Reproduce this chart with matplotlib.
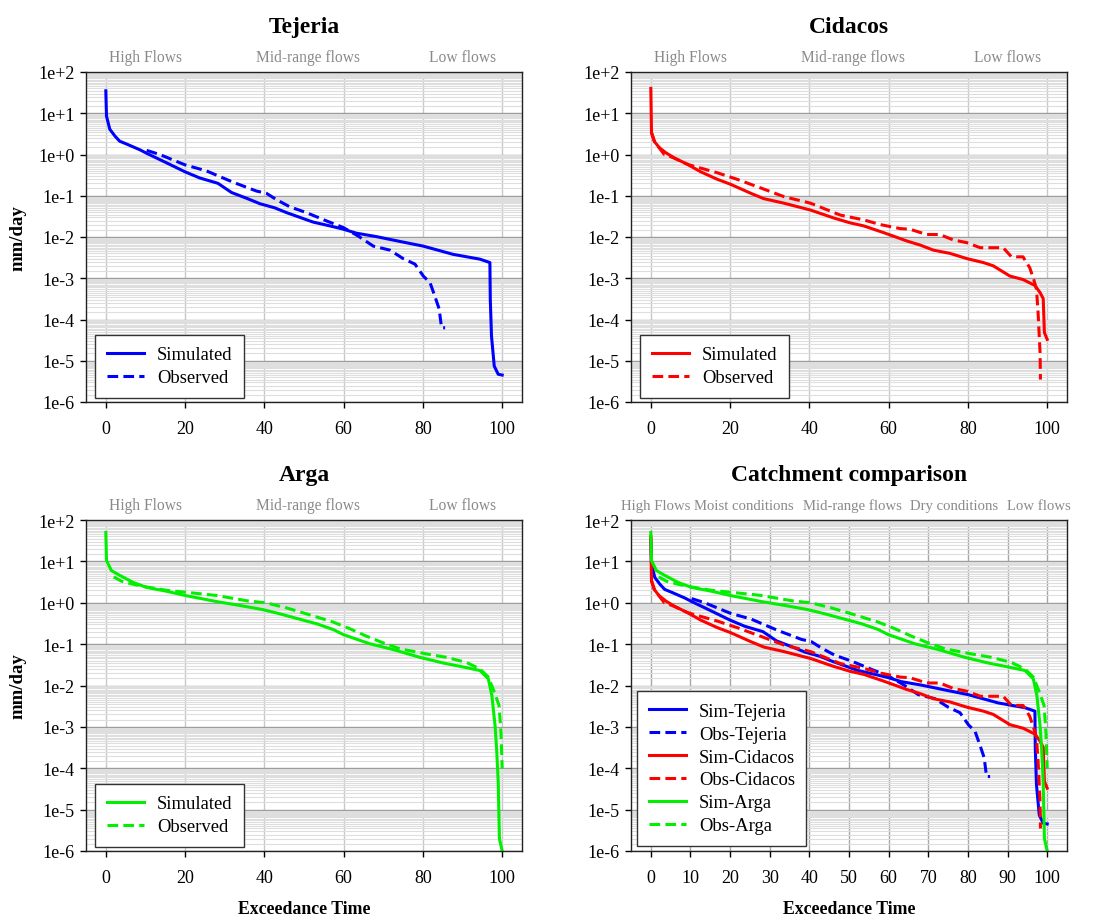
import numpy as np
import matplotlib
matplotlib.use("Agg")
import matplotlib.pyplot as plt
from matplotlib.ticker import LogLocator, FixedLocator, NullFormatter

plt.rcParams['font.family'] = ['Liberation Serif', 'DejaVu Serif']

# ---------------- data (exceedance %, mm/day) ----------------
tej_sim_x = [0, 0.17, 1, 2.3, 3.5, 5.2, 8.6, 10.3, 15.3, 20, 23.7, 28.3, 31.7, 35.5, 38.9,
             42.6, 45.6, 52.3, 56.5, 59.9, 63.2, 68.3, 74.2, 80.1, 87.6, 94.4, 96.9,
             97.0, 97.3, 98.0, 99, 100]
tej_sim_y = [35, 8.5, 4.1, 2.8, 2.1, 1.8, 1.3, 1.07, 0.63, 0.38, 0.27, 0.2, 0.12, 0.087, 0.064,
             0.051, 0.039, 0.023, 0.0186, 0.0155, 0.0124, 0.0102, 0.0078, 0.006, 0.0038, 0.0029, 0.0024,
             3.1e-4, 4e-5, 7.4e-6, 4.7e-6, 4.5e-6]
tej_obs_x = [10.3, 13.6, 20, 25.4, 32, 38, 40.5, 43, 46.4, 50.6, 55.7, 59.9, 63.7, 67.5,
             71.7, 75, 78, 80.1, 81.8, 83, 84.1, 84.7, 85.6]
tej_obs_y = [1.26, 1.0, 0.56, 0.40, 0.215, 0.13, 0.115, 0.081, 0.054, 0.039, 0.0245, 0.017, 0.0105, 0.006,
             0.0048, 0.003, 0.0022, 0.00113, 7.8e-4, 3.7e-4, 1.8e-4, 6.3e-5, 6.3e-5]

cid_sim_x = [0, 0.17, 0.84, 2.1, 3.8, 5.9, 9.2, 12.6, 16.8, 20.1, 25.2, 28.5, 33.6, 40.3, 46.1,
             50.3, 53.7, 58.7, 61.2, 64.6, 67.9, 71.3, 75.5, 79.7, 83.9, 86.4, 90.6, 93.9,
             96.9, 98.2, 99, 99.3, 100]
cid_sim_y = [40, 3.4, 2.1, 1.48, 1.1, 0.83, 0.58, 0.38, 0.25, 0.19, 0.115, 0.085, 0.066, 0.045, 0.029,
             0.022, 0.0186, 0.0128, 0.0105, 0.008, 0.0064, 0.0048, 0.004, 0.003, 0.0024, 0.002, 0.00113, 9.3e-4,
             6.7e-4, 4.5e-4, 3.2e-4, 4.8e-5, 3.3e-5]
cid_obs_x = [0.1, 1.0, 3.4, 5.5, 9.2, 10.9, 16.8, 21.8, 28.5, 33.6, 40.3, 47.8, 53.7, 57.9, 62.9,
             65.4, 69.6, 72.9, 76.3, 79.7, 83.1, 88.9, 91, 93.9, 95.6, 96.6, 97.3, 97.7, 98.2, 98.3]
cid_obs_y = [3.5, 2.0, 1.0, 0.85, 0.58, 0.52, 0.36, 0.25, 0.145, 0.095, 0.066, 0.034, 0.026, 0.020, 0.016,
             0.0154, 0.0115, 0.0115, 0.0085, 0.0073, 0.0055, 0.0055, 0.0033, 0.0033, 0.0018, 9.4e-4, 5.4e-4,
             1.5e-4, 1.6e-5, 3.5e-6]

arg_sim_x = [0, 0.17, 1.4, 3.5, 6.9, 10.3, 15.3, 20, 27.9, 33.8, 39.7, 43.9, 48.1, 53.2, 57.4,
             59.9, 66.6, 72.5, 79.2, 85.1, 91, 94.4, 96.5, 97.4, 98.2, 98.6, 99, 99.3, 100]
arg_sim_y = [50, 10.5, 6, 4.6, 3.1, 2.35, 1.9, 1.5, 1.07, 0.86, 0.68, 0.54, 0.42, 0.31, 0.225,
             0.17, 0.102, 0.074, 0.048, 0.035, 0.027, 0.023, 0.0145, 0.0057, 0.00108, 2.9e-4, 4.7e-5, 2e-6, 1e-6]
arg_obs_x = [2, 4, 6.9, 10.3, 15.3, 20, 27.9, 35.5, 40.5, 45.6, 50.6, 57.4, 61.6, 65.8, 70,
             74.2, 80.9, 85.9, 91, 94.4, 96.5, 98.2, 99.2, 99.7, 100]
arg_obs_y = [4.2, 3.3, 2.8, 2.4, 2.0, 1.8, 1.5, 1.12, 0.99, 0.75, 0.54, 0.34, 0.235, 0.155, 0.107,
             0.077, 0.058, 0.048, 0.036, 0.025, 0.016, 0.0063, 0.0033, 7.4e-4, 9.8e-5]

ytick_vals = [1e2, 1e1, 1e0, 1e-1, 1e-2, 1e-3, 1e-4, 1e-5, 1e-6]
ytick_labels = ["1e+2", "1e+1", "1e+0", "1e-1", "1e-2", "1e-3", "1e-4", "1e-5", "1e-6"]

regions3 = ["High Flows", "Mid-range flows", "Low flows"]
regions3_x = [10, 51, 90]
regions5 = ["High Flows", "Moist conditions", "Mid-range flows", "Dry conditions", "Low flows"]
regions5_x = [1.3, 23.4, 50.9, 76.5, 97.9]

BLUE, RED, GREEN = "#0000ff", "#ff0000", "#00f000"
DASH = (3.5, 1.7)
LW = 2.2

fig = plt.figure(figsize=(10.99, 9.2), dpi=100)
W, H = 1099, 920


def make_ax(left_px, top_px, right_px, bottom_px):
    return fig.add_axes([left_px / W, 1 - bottom_px / H, (right_px - left_px) / W, (bottom_px - top_px) / H])


def style(ax, xstep, vcol, title, regions, regions_x, rfs, ylabel, xlabel):
    ax.set_yscale('log')
    ax.set_ylim(1e-6, 1e2)
    ax.set_xlim(-5, 105)
    ax.yaxis.set_major_locator(FixedLocator(ytick_vals))
    ax.set_yticklabels(ytick_labels)
    ax.yaxis.set_minor_locator(LogLocator(base=10, subs=np.arange(1.5, 10, 0.5), numticks=50))
    ax.yaxis.set_minor_formatter(NullFormatter())
    ax.set_xticks(np.arange(0, 101, xstep))
    ax.grid(True, which='major', axis='y', color='#9a9a9a', lw=1.0, zorder=0)
    ax.grid(True, which='minor', axis='y', color='#dedede', lw=0.8, zorder=0)
    ax.grid(True, which='major', axis='x', color=vcol, lw=1.0, zorder=0)
    ax.tick_params(axis='y', which='minor', length=0)
    ax.tick_params(axis='both', which='major', labelsize=13, length=4, width=1, direction='out')
    ax.tick_params(axis='y', pad=4)
    ax.tick_params(axis='x', pad=9)
    ax.set_axisbelow(True)
    for s in ax.spines.values():
        s.set_color('#222222')
        s.set_linewidth(1.0)
    ax.text(0.5, 1 + 40 / 330, title, transform=ax.transAxes, ha='center', va='baseline',
            fontsize=17, fontweight='bold')
    for lab, xv in zip(regions, regions_x):
        ax.text(xv, 1e2 * 10 ** (11 / 41.3), lab, ha='center', va='baseline',
                fontsize=rfs, color='#8a8a8a', clip_on=False)
    if ylabel:
        ax.text(-0.155, 0.5, ylabel, transform=ax.transAxes, rotation=90, ha='center', va='center',
                fontsize=13.5, fontweight='bold')
    if xlabel:
        ax.text(0.5, -58 / 331, xlabel, transform=ax.transAxes, ha='center', va='center',
                fontsize=12.8, fontweight='bold')


# Panel 1 - Tejeria
ax1 = make_ax(86, 73, 522, 403)
style(ax1, 20, '#c8c8c8', "Tejeria", regions3, regions3_x, 11.2, "mm/day", None)
ax1.plot(tej_sim_x, tej_sim_y, color=BLUE, lw=LW, label="Simulated")
ax1.plot(tej_obs_x, tej_obs_y, color=BLUE, lw=LW, dashes=DASH, label="Observed")

# Panel 2 - Cidacos
ax2 = make_ax(631, 73, 1067, 403)
style(ax2, 20, '#c8c8c8', "Cidacos", regions3, regions3_x, 11.2, None, None)
ax2.plot(cid_sim_x, cid_sim_y, color=RED, lw=LW, label="Simulated")
ax2.plot(cid_obs_x, cid_obs_y, color=RED, lw=LW, dashes=DASH, label="Observed")

# Panel 3 - Arga
ax3 = make_ax(86, 521, 522, 852)
style(ax3, 20, '#c8c8c8', "Arga", regions3, regions3_x, 11.2, "mm/day", "Exceedance Time")
ax3.plot(arg_sim_x, arg_sim_y, color=GREEN, lw=LW, label="Simulated")
ax3.plot(arg_obs_x, arg_obs_y, color=GREEN, lw=LW, dashes=DASH, label="Observed")

# Panel 4 - comparison
ax4 = make_ax(631, 521, 1067, 852)
style(ax4, 10, '#a8a8a8', "Catchment comparison", regions5, regions5_x, 10.6, None, "Exceedance Time")
ax4.plot(tej_sim_x, tej_sim_y, color=BLUE, lw=LW, label="Sim-Tejeria")
ax4.plot(tej_obs_x, tej_obs_y, color=BLUE, lw=LW, dashes=DASH, label="Obs-Tejeria")
ax4.plot(cid_sim_x, cid_sim_y, color=RED, lw=LW, label="Sim-Cidacos")
ax4.plot(cid_obs_x, cid_obs_y, color=RED, lw=LW, dashes=DASH, label="Obs-Cidacos")
ax4.plot(arg_sim_x, arg_sim_y, color=GREEN, lw=LW, label="Sim-Arga")
ax4.plot(arg_obs_x, arg_obs_y, color=GREEN, lw=LW, dashes=DASH, label="Obs-Arga")

leg_kw = dict(loc='lower left', borderaxespad=0, fancybox=False, framealpha=1,
              edgecolor='#333333', fontsize=13.4, handlelength=2.0, labelspacing=0.32,
              borderpad=0.62, handletextpad=0.7)
for ax in (ax1, ax2, ax3):
    lg = ax.legend(bbox_to_anchor=(9 / 436, 4 / 330), **leg_kw)
    lg.get_frame().set_linewidth(1.0)
lg = ax4.legend(bbox_to_anchor=(6 / 436, 5 / 331), **leg_kw)
lg.get_frame().set_linewidth(1.0)

fig.savefig("out.png", dpi=100)
